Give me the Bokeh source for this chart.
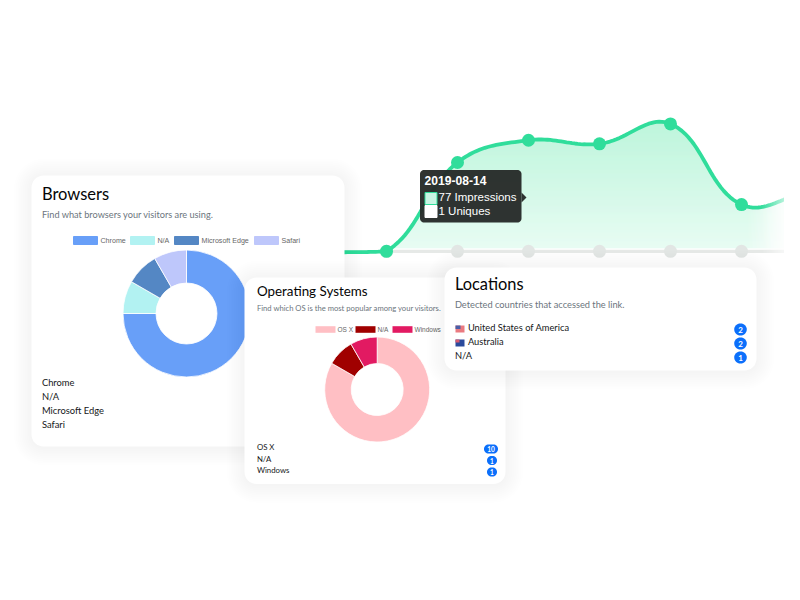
import math
from bokeh.plotting import figure
from bokeh.models import Range1d
from bokeh.core.properties import value
from bokeh.embed import file_html
from bokeh.resources import INLINE

# ---- data ----
dates = ["2019-08-12", "2019-08-13", "2019-08-14", "2019-08-15", "2019-08-16", "2019-08-17", "2019-08-18", "2019-08-19"]
impressions = [0, 1, 77, 96, 93, 110, 41, 54]
uniques = [0, 1, 1, 1, 1, 1, 1, 1]
browser_names = ["Chrome", "N/A", "Microsoft Edge", "Safari"]
browser_counts = [9, 1, 1, 1]
browser_colors = ["#689ff8", "#b2f2f2", "#5487c4", "#bec7fb"]
os_names = ["OS X", "N/A", "Windows"]
os_counts = [10, 1, 1]
os_colors = ["#ffbfc4", "#a00000", "#e21a62"]
location_names = ["United States of America", "Australia", "N/A"]
location_counts = [2, 2, 1]

# ---- layout helpers (page pixels, y measured from top) ----
W, H = 784, 584
LX0, LDX = 315.0, 71.0      # page x of the first date, page px per day
LBASE, LSC = 252.0, 1.169   # page y of value 0, page px per unit

p = figure(width=W, height=H, output_backend="svg", toolbar_location=None,
           x_range=Range1d(0, W), y_range=Range1d(600 - H, 600),
           x_axis_location=None, y_axis_location=None, min_border=0)
p.grid.visible = False
p.outline_line_color = None
p.background_fill_color = "white"
p.border_fill_color = "white"
p.extra_x_ranges["line"] = Range1d((0 - LX0) / LDX, (W - LX0) / LDX)
p.extra_y_ranges["line"] = Range1d((600 - H - (600 - LBASE)) / LSC, (600 - (600 - LBASE)) / LSC)


def Y(y):
    return 600 - y


def rounded(x0, y0, x1, y1, r):
    xs, ys = [], []
    for cx, cy, a0 in [(x1 - r, y0 + r, -90), (x1 - r, y1 - r, 0), (x0 + r, y1 - r, 90), (x0 + r, y0 + r, 180)]:
        for k in range(9):
            a = math.radians(a0 + k * 90 / 8)
            xs.append(cx + r * math.cos(a))
            ys.append(Y(cy + r * math.sin(a)))
    return xs, ys


def label(x, y, s, size, color="#151719", font="Lato", style="normal", align="left"):
    dx, dy = (-0.6, -1) if font == "Lato" else (0, 0)
    p.text([x + dx], [Y(y + dy)], text=[s], text_font=value(font), text_font_size=f"{size}px", text_color=color,
           text_font_style=style, text_align=align, text_baseline="middle")


def box(x0, y0, x1, y1, color, alpha=1.0, line=None):
    p.quad(left=[x0], right=[x1], top=[Y(y0)], bottom=[Y(y1)], fill_color=color, fill_alpha=alpha,
           line_color=line)


def card(x0, y0, x1, y1):
    for j in range(10, 0, -1):
        k = j * 1.8
        xs, ys = rounded(x0 - k, y0 - k + 1, x1 + k, y1 + k + 1, 12 + k)
        p.patch(xs, ys, fill_color="black", fill_alpha=0.0045, line_color=None)
    xs, ys = rounded(x0, y0, x1, y1, 12)
    p.patch(xs, ys, fill_color="white", line_color=None)


def donut(cx, cy, ro, ri, counts, colors):
    total = sum(counts)
    a = math.pi / 2
    starts, ends = [], []
    for c in counts:
        starts.append(a)
        a -= 2 * math.pi * c / total
        ends.append(a)
    p.annular_wedge(x=[cx] * len(counts), y=[Y(cy)] * len(counts), inner_radius=ri, outer_radius=ro,
                    inner_radius_units="screen", outer_radius_units="screen",
                    start_angle=starts, end_angle=ends, direction="clock",
                    fill_color=colors, line_color="white", line_width=0.8)


def badge(cx, cy, w, h, s, size):
    xs, ys = rounded(cx - w / 2, cy - h / 2, cx + w / 2, cy + h / 2, h / 2)
    p.patch(xs, ys, fill_color="#0b6ffb", line_color=None)
    label(cx + 0.6, cy + 1.3, s, size, "white", style="bold", align="center")


# ---- smooth line through the values (tension 0.4 spline, control points capped at the chart floor) ----
def spline(vals):
    P = [(i * LDX, v * LSC) for i, v in enumerate(vals)]
    n = len(P)
    out = []
    ctrl = []
    for i in range(n):
        a, b, c = P[max(i - 1, 0)], P[i], P[min(i + 1, n - 1)]
        d1, d2 = math.dist(a, b), math.dist(b, c)
        s = d1 + d2
        fa, fb = 0.4 * d1 / s, 0.4 * d2 / s
        ctrl.append(((b[0] - fa * (c[0] - a[0]), max(0, b[1] - fa * (c[1] - a[1]))),
                     (b[0] + fb * (c[0] - a[0]), max(0, b[1] + fb * (c[1] - a[1])))))
    for i in range(n - 1):
        b0, b1, b2, b3 = P[i], ctrl[i][1], ctrl[i + 1][0], P[i + 1]
        for k in range(24):
            t = k / 24
            u = 1 - t
            out.append((u**3 * b0[0] + 3 * u * u * t * b1[0] + 3 * u * t * t * b2[0] + t**3 * b3[0],
                        u**3 * b0[1] + 3 * u * u * t * b1[1] + 3 * u * t * t * b2[1] + t**3 * b3[1]))
    out.append(P[-1])
    return [q[0] / LDX for q in out], [q[1] / LSC for q in out]


cx_, cy_ = spline(impressions)
idx = list(range(len(dates)))

# gradient under the curve
top_rgb, bot_rgb = (166, 242, 207), (224, 251, 239)
for y in range(118, 248):
    t = (y - 118) / 130
    c = tuple(round(top_rgb[i] + (bot_rgb[i] - top_rgb[i]) * t) for i in range(3))
    box(330, y, 800, y + 1, "#%02x%02x%02x" % c)
# white mask above the curve
p.patch(cx_ + [cx_[-1], cx_[0]], cy_ + [125, 125], fill_color="white", line_color=None,
        x_range_name="line", y_range_name="line")
# left of the first point nothing is filled
box(330, 118, 388, 249, "white")
# white edge of the second series' area
box(388, 248, 800, 249.5, "white")
# fade of the fill to the right
for x in range(745, 792):
    box(x, 118, x + 1, 249, "white", alpha=min(1, (x - 745) / 43))

# second series
p.line(idx, uniques, line_color="#e6e9e7", line_width=3.2, x_range_name="line", y_range_name="line")
p.scatter(idx[1:], uniques[1:], size=13, fill_color="#e2e6e4", line_color=None, x_range_name="line", y_range_name="line")
# first series
p.line(cx_, cy_, line_color="#30dd9b", line_width=3.8, x_range_name="line", y_range_name="line")
p.scatter(idx, impressions, size=13, fill_color="#30dd9b", line_color=None, x_range_name="line", y_range_name="line")
# fade of everything at the right edge
for x in range(758, 792):
    box(x, 118, x + 1, 262, "white", alpha=min(1, ((x - 758) / 30) ** 1.3))

# tooltip
xs, ys = rounded(419.5, 169.5, 521, 222, 4)
p.patch(xs, ys, fill_color="#272b29", fill_alpha=0.96, line_color=None)
p.patch([521, 526, 521], [Y(192), Y(197), Y(202)], fill_color="#272b29", fill_alpha=0.96, line_color=None)
label(424, 180, dates[2], 12.1, "white", "Liberation Sans", "bold")
box(424.5, 192, 436.5, 204, "#c9f5e4", line="#30dd9b")
box(424.5, 205, 436.5, 217, "white", line="white")
label(438, 196.7, f"{impressions[2]} Impressions", 11.5, "white", "Liberation Sans")
label(438, 210.2, f"{uniques[2]} Uniques", 11.5, "white", "Liberation Sans")

# ---- Browsers ----
card(31, 175, 344, 446)
label(42, 194.5, "Browsers", 16.5, "#050505")
label(42, 215, "Find what browsers your visitors are using.", 9.2, "#6c757d")
for x0, s, c in zip([73, 130, 174, 254], browser_names, browser_colors):
    box(x0, 236, x0 + 24, 244, c, line=c)
    label(x0 + 27, 240.3, s, 7.1, "#666666", "Liberation Sans")
donut(186, 313, 63.5, 30.5, browser_counts, browser_colors)
for y, s in zip([383, 397, 410.7, 424.7], browser_names):
    label(42, y, s, 9.35)

# ---- Operating Systems ----
card(244, 277, 505, 483.5)
label(257, 291, "Operating Systems", 13.4, "#050505")
label(257, 308, "Find which OS is the most popular among your visitors.", 7.65, "#6c757d")
for x0, s, c in zip([315, 355, 392], os_names, os_colors):
    box(x0, 325.7, x0 + 20, 332.3, c)
    label(x0 + 22, 329, s, 6.5, "#666666", "Liberation Sans")
donut(376.7, 389, 52.5, 26, os_counts, os_colors)
for y, s in zip([447.8, 459.2, 470.8], os_names):
    label(257, y, s, 7.8)
for y, n in zip([448.5, 460, 471.5], os_counts):
    badge(491.5 if n < 10 else 490.5, y, 10 if n < 10 else 14, 9, str(n), 6.5)

# ---- Locations ----
card(444, 267, 756, 370)
label(455, 283.5, "Locations", 16.4, "#050505")
label(455, 304.5, "Detected countries that accessed the link.", 9.25, "#6c757d")
box(455, 325, 464, 332, "#ea7a80")
box(455, 325, 460, 328.5, "#4a5fa8")
box(455, 339, 464, 346, "#2b4a9c")
box(455, 339, 459, 342, "#d85a70")
for y, s in zip([328, 342], location_names[:2]):
    label(468, y, s, 9.3)
label(455, 356, location_names[2], 9.3)
for y, n in zip([329, 343, 357], location_counts):
    badge(740, y, 12.5, 12, str(n), 8)

open("out.html", "w").write(file_html(p, INLINE))
